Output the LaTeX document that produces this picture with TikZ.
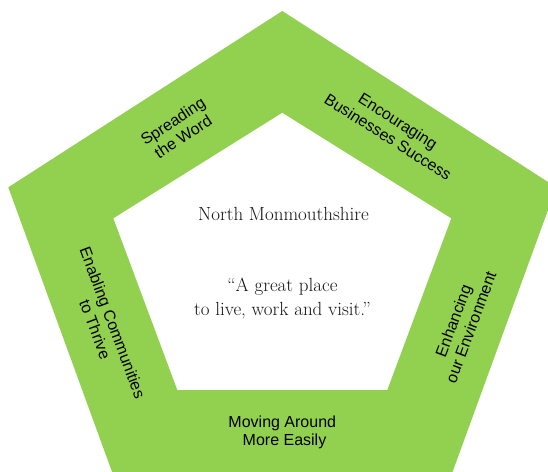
\documentclass[tikz,border=0pt]{standalone}
\usepackage{fontspec}
\newfontfamily\labelfont{Liberation Sans}
\definecolor{ringgreen}{RGB}{146,208,80}
\definecolor{quoteink}{RGB}{20,20,20}
\begin{document}
\begin{tikzpicture}[x=1pt,y=-1pt,
  ringlabel/.style={font=\labelfont\fontsize{16}{18.7}\selectfont, align=center, text=black, inner sep=0pt},
  centretext/.style={font=\fontsize{19}{24.3}\selectfont, align=center, text=quoteink, inner sep=0pt}]
\useasboundingbox (0,0) rectangle (548,471);
\clip (0,0) rectangle (548,471);
\fill[ringgreen, even odd rule]
  (282.3,11) -- (556.3,187.3) -- (449.6,480) -- (115,480) -- (8.3,187.3) -- cycle
  (282.3,112.7) -- (451.3,218.3) -- (387.3,390) -- (177.3,390) -- (113.3,218.3) -- cycle;
\node[centretext, anchor=base] (title) at (283.5,220.7) {North Monmouthshire};
\node[centretext] (quote) at (282.5,298.3) {“A great place\\to live, work and visit.”};
\node[ringlabel, rotate=33] (spread) at (178,129) {Spreading\\the Word};
\node[ringlabel, rotate=-32.5] (business) at (393,129) {Encouraging\\Businesses Success};
\node[ringlabel, rotate=-69.5] (communities) at (104,326) {Enabling Communities\\to Thrive};
\node[ringlabel, rotate=69.5] (environment) at (462,324) {Enhancing\\our Environment};
\node[ringlabel] (moving) at (282.3,432.5) {Moving Around\\\hspace*{0.278em}More Easily};
\end{tikzpicture}
\end{document}
